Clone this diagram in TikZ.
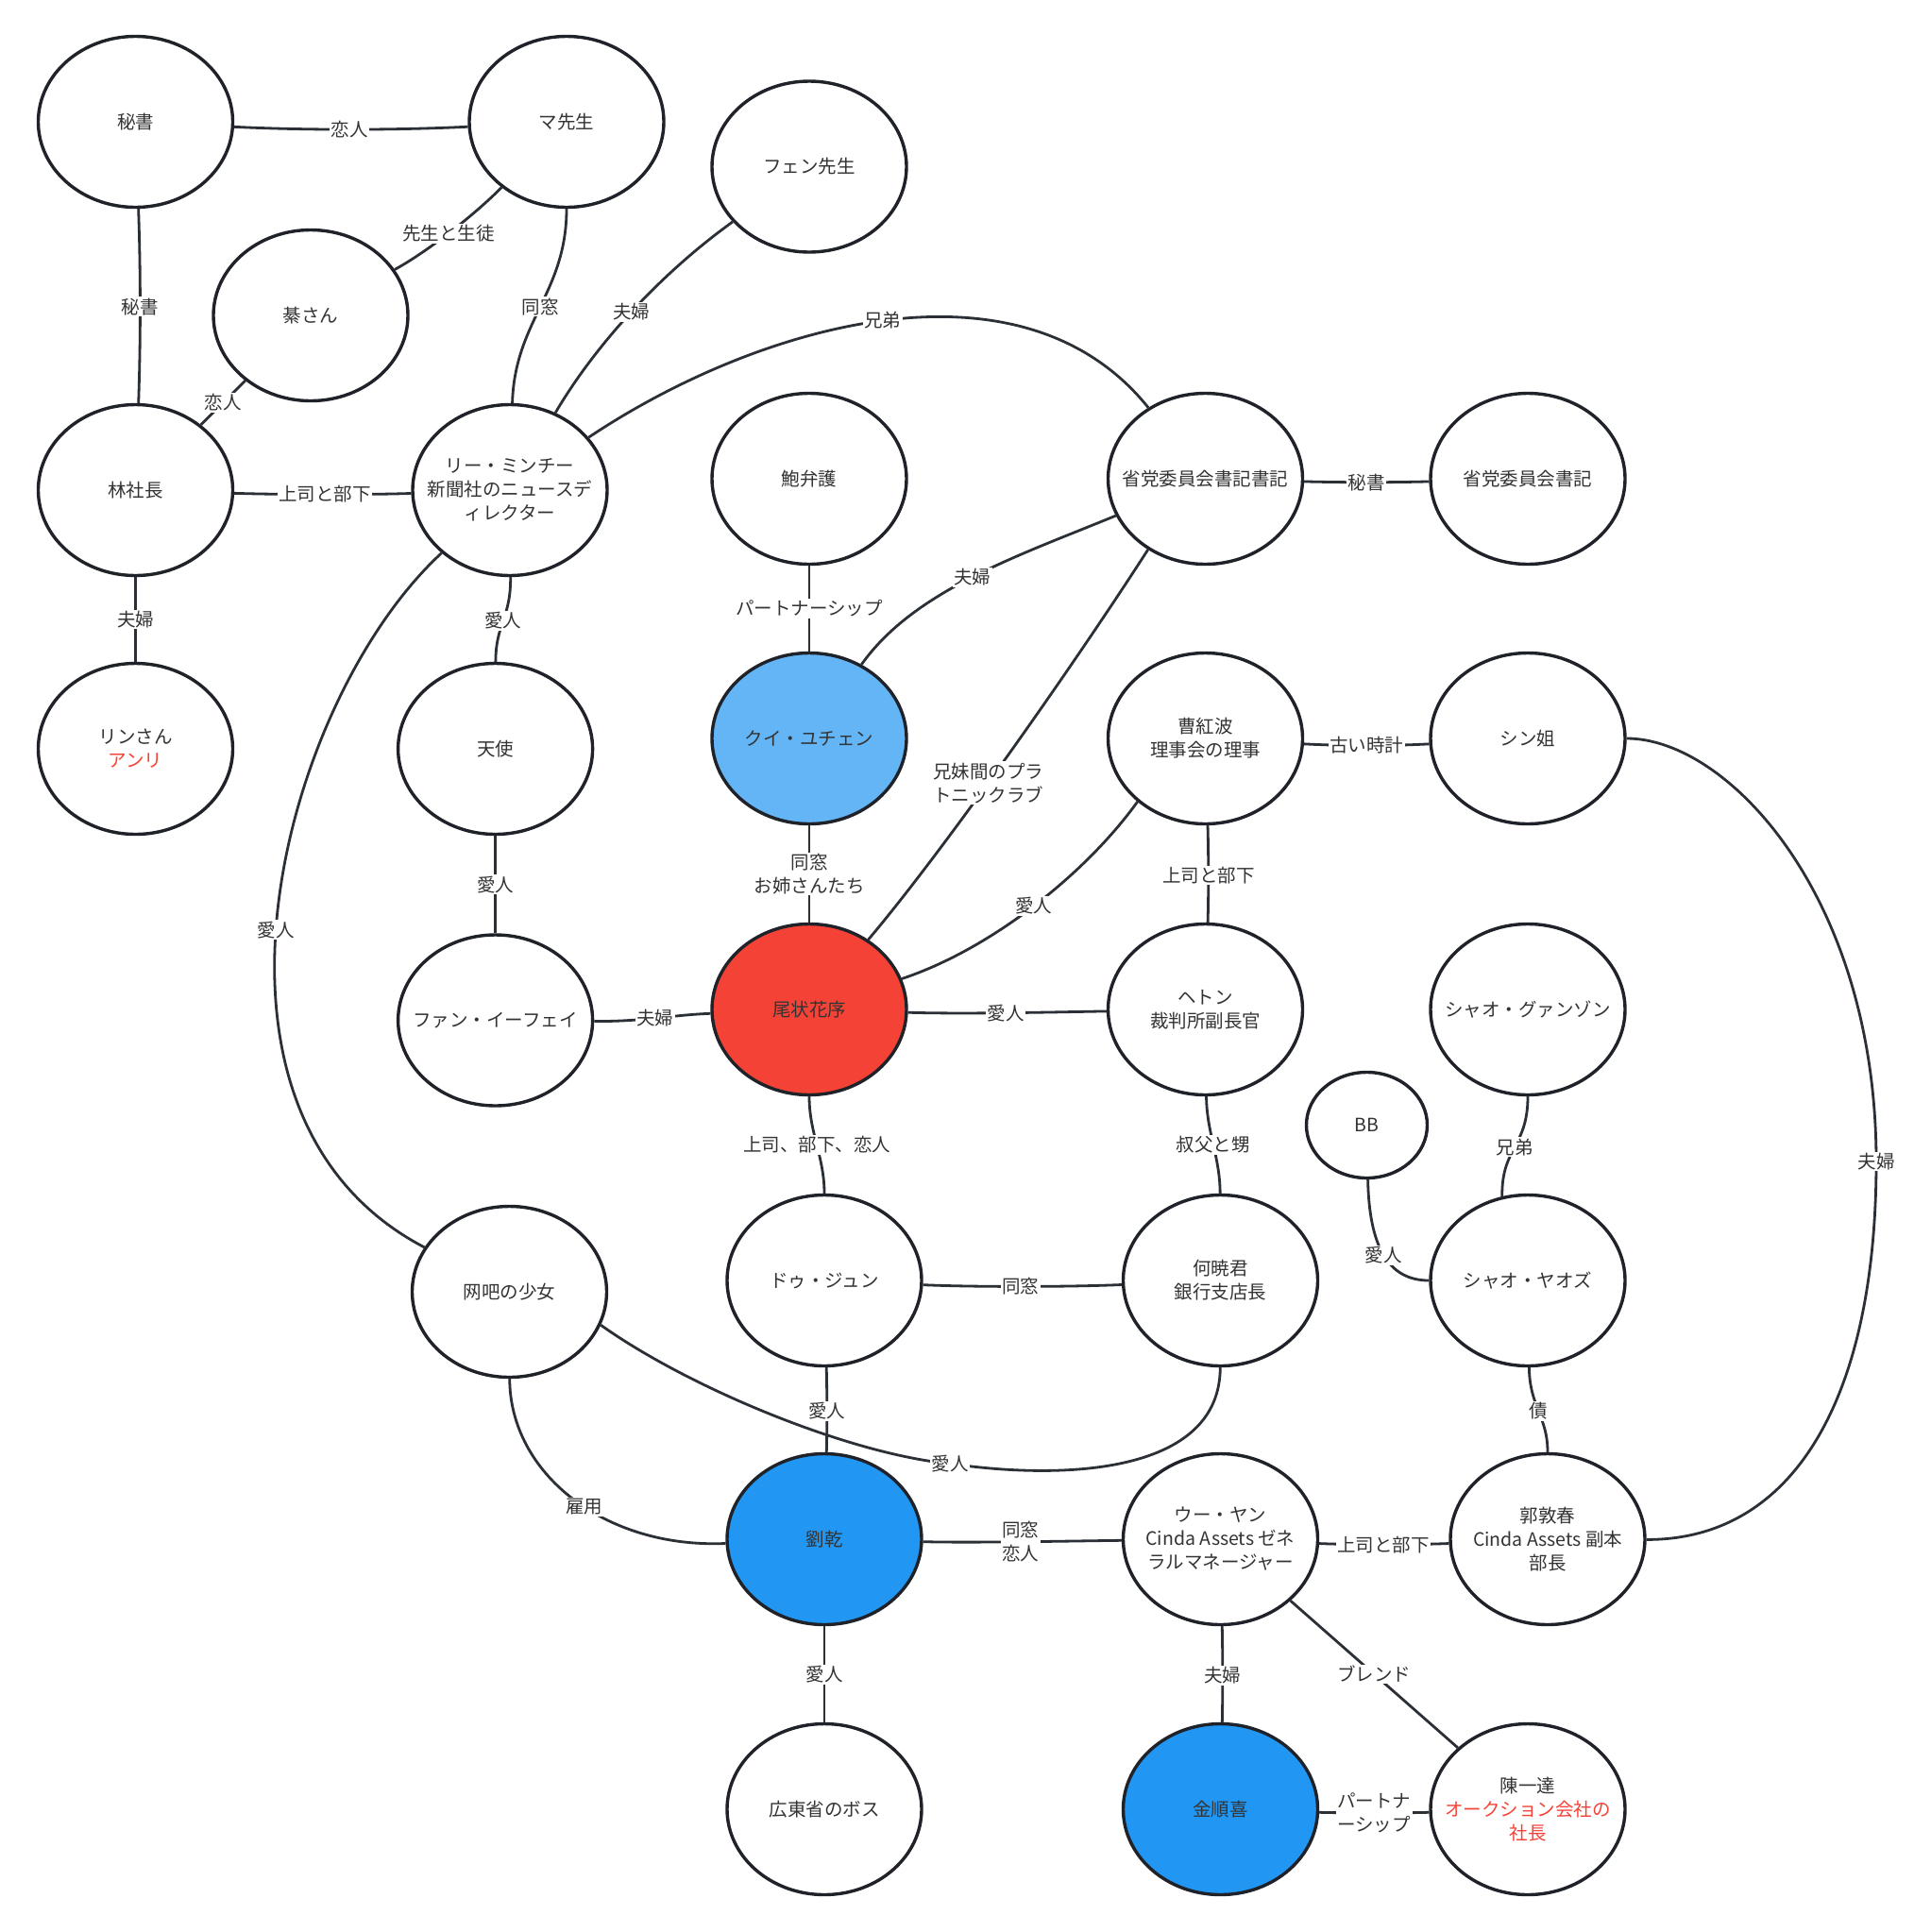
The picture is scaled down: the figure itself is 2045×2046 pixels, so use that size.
\documentclass[tikz,border=0pt]{standalone}
\usepackage{fontspec}
\setmainfont{Noto Sans CJK JP}
\usetikzlibrary{shapes.geometric}
\definecolor{nodeline}{HTML}{1F2329}
\definecolor{edgec}{HTML}{2B2F36}
\definecolor{txt}{HTML}{333333}
\definecolor{lblue}{HTML}{64B5F6}
\definecolor{redf}{HTML}{F44336}
\definecolor{bluef}{HTML}{2196F3}
\definecolor{redt}{HTML}{F44336}
\begin{document}
\begin{tikzpicture}[x=1pt,y=-1pt,
  bubble/.style={ellipse, draw=nodeline, line width=3.4pt, fill=white,
    minimum width=206pt, minimum height=181pt, inner xsep=-20pt, inner ysep=0pt,
    align=center, text=txt, font=\fontsize{19.5pt}{25pt}\selectfont},
  small/.style={minimum width=128pt, minimum height=112pt},
  rel/.style={draw=edgec, line width=2.8pt},
  lbl/.style={fill=white, inner sep=1.5pt, align=center, text=txt,
    font=\fontsize{19.5pt}{25pt}\selectfont}]
\fill[white] (0,0) rectangle (2045,2046);
\useasboundingbox (0,0) rectangle (2045,2046);

% nodes
\node[bubble] (hisho)  at (143.5,129) {秘書};
\node[bubble] (ma)     at (600,129)   {マ先生};
\node[bubble] (fen)    at (857,176.5) {フェン先生};
\node[bubble] (ki)     at (329,334)   {綦さん};
\node[bubble] (rin)    at (143.5,519) {林社長};
\node[bubble] (lee)    at (540,519)   {リー・ミンチー\\新聞社のニュースデ\\ィレクター};
\node[bubble] (hou)    at (857,507)   {鮑弁護};
\node[bubble] (shoki)  at (1276.5,507) {省党委員会書記書記};
\node[bubble] (shosec) at (1618,507)  {省党委員会書記};
\node[bubble] (rinsan) at (143.5,793) {リンさん\\{\color{redt}アンリ}};
\node[bubble] (tenshi) at (524.6,793) {天使};
\node[bubble, fill=lblue] (kui) at (857,782) {クイ・ユチェン};
\node[bubble] (sokobo) at (1276.5,782) {曹紅波\\理事会の理事};
\node[bubble] (shin)   at (1618,782)  {シン姐};
\node[bubble] (fan)    at (524.6,1080.5) {ファン・イーフェイ};
\node[bubble, fill=redf] (bijo) at (857,1069) {尾状花序};
\node[bubble] (heton)  at (1276.5,1069) {ヘトン\\裁判所副長官};
\node[bubble] (gz)     at (1618,1069) {シャオ・グァンゾン};
\node[bubble, small] (bb) at (1447.5,1191.5) {BB};
\node[bubble] (wangba) at (539.5,1368) {网吧の少女};
\node[bubble] (du)     at (873,1356)  {ドゥ・ジュン};
\node[bubble] (ho)     at (1292.5,1356) {何暁君\\銀行支店長};
\node[bubble] (yaozu)  at (1618,1356) {シャオ・ヤオズ};
\node[bubble, fill=bluef] (liu) at (873,1630) {劉乾};
\node[bubble] (wu)     at (1292.5,1630) {ウー・ヤン\\Cinda Assets ゼネ\\ラルマネージャー};
\node[bubble] (kaku)   at (1639,1630) {郭敦春\\Cinda Assets 副本\\部長};
\node[bubble] (kanton) at (873,1916)  {広東省のボス};
\node[bubble, fill=bluef] (kin) at (1292.5,1916) {金順喜};
\node[bubble] (chin)   at (1618,1916) {陳一達\\{\color{redt}オークション会社の}\\{\color{redt}社長}};

% connectors
\draw[rel] (hisho) .. controls (320,138) and (420,138) .. (ma) node[lbl,pos=0.5]{恋人};
\draw[rel] (hisho) .. controls (149,290) and (149,360) .. (rin) node[lbl,pos=0.5]{秘書};
\draw[rel] (ma) .. controls (500,230) and (450,268) .. (ki) node[lbl,pos=0.5]{先生と生徒};
\draw[rel] (ki) -- (rin) node[lbl,pos=0.5]{恋人};
\draw[rel] (ma) .. controls (600,310) and (545,340) .. (lee) node[lbl,pos=0.5]{同窓};
\draw[rel] (fen) .. controls (698,291) and (630,366) .. (lee) node[lbl,pos=0.5]{夫婦};
\draw[rel] (lee) .. controls (800,345) and (1080,262) .. (shoki) node[lbl,pos=0.5]{兄弟};
\draw[rel] (rin) .. controls (300,524) and (390,524) .. (lee) node[lbl,pos=0.5]{上司と部下};
\draw[rel] (rin) -- (rinsan) node[lbl,pos=0.5]{夫婦};
\draw[rel] (lee) .. controls (541,655) and (525,660) .. (tenshi) node[lbl,pos=0.5]{愛人};
\draw[rel] (lee) .. controls (300,740) and (180,1180) .. (wangba) node[lbl,pos=0.53]{愛人};
\draw[rel] (hou) -- (kui) node[lbl,pos=0.5]{パートナーシップ};
\draw[rel] (shoki) .. controls (1080,588) and (968,625) .. (kui) node[lbl,pos=0.5]{夫婦};
\draw[rel] (shoki.231) .. controls (1140,700) and (1000,900) .. (bijo) node[lbl,pos=0.57]{兄妹間のプラ\\トニックラブ};
\draw[rel] (shoki) .. controls (1420,511) and (1475,511) .. (shosec) node[lbl,pos=0.5]{秘書};
\draw[rel] (tenshi) -- (fan) node[lbl,pos=0.5]{愛人};
\draw[rel] (kui) -- (bijo) node[lbl,pos=0.5]{同窓\\お姉さんたち};
\draw[rel] (sokobo.223) .. controls (1150,925) and (1050,1005) .. (bijo) node[lbl,pos=0.5]{愛人};
\draw[rel] (sokobo) .. controls (1420,790) and (1475,790) .. (shin) node[lbl,pos=0.5]{古い時計};
\draw[rel] (sokobo) .. controls (1280,910) and (1280,945) .. (heton) node[lbl,pos=0.5]{上司と部下};
\draw[rel] (shin) .. controls (1830,782) and (1987,950) .. (1987,1230) node[lbl]{夫婦}
  .. controls (1987,1480) and (1900,1631) .. (kaku);
\draw[rel] (fan) .. controls (680,1082) and (710,1075) .. (bijo) node[lbl,pos=0.5]{夫婦};
\draw[rel] (bijo) .. controls (1020,1074) and (1110,1072) .. (heton) node[lbl,pos=0.5]{愛人};
\draw[rel] (bijo) .. controls (857,1200) and (873,1225) .. (du) node[lbl,pos=0.5]{上司、部下、恋人};
\draw[rel] (heton) .. controls (1278,1200) and (1292,1225) .. (ho) node[lbl,pos=0.5]{叔父と甥};
\draw[rel] (gz) .. controls (1618,1215) and (1590,1215) .. (yaozu.107) node[lbl,pos=0.5]{兄弟};
\draw[rel] (bb) .. controls (1450,1320) and (1470,1356) .. (yaozu) node[lbl,pos=0.5]{愛人};
\draw[rel] (du) .. controls (1030,1363) and (1130,1363) .. (ho) node[lbl,pos=0.5]{同窓};
\draw[rel] (wangba.-20) .. controls (730,1470) and (900,1540) .. (1006,1550) node[lbl]{愛人}
  .. controls (1130,1568) and (1292,1560) .. (ho);
\draw[rel] (du) .. controls (876,1480) and (876,1510) .. (liu) node[lbl,pos=0.5]{愛人};
\draw[rel] (wangba) .. controls (540,1560) and (640,1640) .. (liu) node[lbl,pos=0.55]{雇用};
\draw[rel] (liu) .. controls (1030,1634) and (1130,1632) .. (wu) node[lbl,pos=0.5]{同窓\\恋人};
\draw[rel] (liu) -- (kanton) node[lbl,pos=0.5]{愛人};
\draw[rel] (yaozu) .. controls (1620,1490) and (1639,1500) .. (kaku) node[lbl,pos=0.5]{債};
\draw[rel] (wu) .. controls (1430,1636) and (1500,1636) .. (kaku) node[lbl,pos=0.5]{上司と部下};
\draw[rel] (wu) .. controls (1295,1760) and (1295,1790) .. (kin) node[lbl,pos=0.5]{夫婦};
\draw[rel] (wu) -- (chin) node[lbl,pos=0.5]{ブレンド};
\draw[rel] (kin) .. controls (1420,1920) and (1490,1920) .. (chin) node[lbl,pos=0.5]{パートナ\\ーシップ};
\end{tikzpicture}
\end{document}
